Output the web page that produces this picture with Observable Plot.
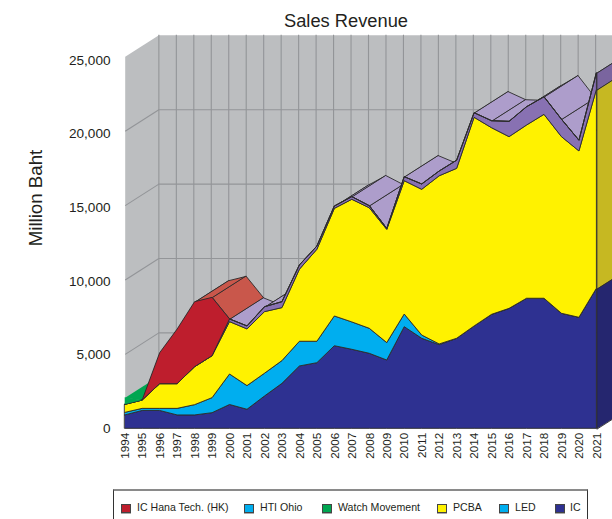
<!DOCTYPE html>
<html><head><meta charset="utf-8">
<script src="https://cdn.jsdelivr.net/npm/d3@7"></script>
<script src="https://cdn.jsdelivr.net/npm/@observablehq/plot@0.6"></script>
<style>
html,body{margin:0;padding:0;background:#fff;width:612px;height:519px;overflow:hidden;font-family:"Liberation Sans",Arial,sans-serif;color:#231f20}
#title{position:absolute;left:346px;top:0;transform:translateX(-50%);font-size:18.3px;line-height:42px;height:30px;white-space:nowrap}
#chart{position:absolute;left:0;top:30px}
#legend{position:absolute;left:113px;top:489px;width:473px;height:50px;border:1px solid #333;border-top:2px solid #8a8a8a;font-size:10.6px}
#legend .s{position:absolute;top:12.5px;width:7.5px;height:7.5px;border:1px solid #444;box-shadow:0 1px 0 #aaa}
#legend .t{position:absolute;top:10px;line-height:13px;white-space:nowrap}
</style></head><body>
<div id="title">Sales Revenue</div>
<div id="chart"></div>
<div id="legend"></div>
<script>
const years = d3.range(1994, 2022);
const IC   = [900,1200,1200,900,900,1050,1600,1280,2170,3020,4190,4410,5550,5310,5040,4590,6830,6050,5620,6050,6880,7660,8060,8740,8740,7730,7460,9410];
const LED  = [170,140,140,440,690,1010,2050,1590,1530,1530,1660,1440,2000,1840,1680,1170,850,220,50,0,0,0,0,0,0,0,0,0];
const PCBA = [540,560,1660,1660,2550,2820,3520,3810,4140,3560,4840,6180,7230,8240,8100,7610,8960,9790,11300,11420,14020,12540,11540,11640,12360,11870,11180,13370];
const HTIOhio = [0,0,0,0,0,0,180,200,330,400,290,220,160,180,140,60,270,360,320,550,310,470,1030,1230,1180,1170,720,1120];
const Hana = [0,0,2080,3670,4370,3920,0,0,0,0,0,0,0,0,0,0,0,0,0,0,0,0,0,0,0,0,0,0];
const Watch = [470,0,0,0,0,0,0,0,0,0,0,0,0,0,0,0,0,0,0,0,0,0,0,0,0,0,0,0];

const yTicks = [0,5000,10000,15000,20000,25000];
const gridValues = [5000,10000,15000,20000];
const depthX = 1.927, depthY = 1445;

const seriesDefs = [
  {name:"IC", values:IC, front:"#2e3191", top:"#2e3191", side:"#25266f", line:"#2b2b2b"},
  {name:"LED", values:LED, front:"#00aeef", top:"#00aeef", side:"#0090c6", line:"#2b2b2b"},
  {name:"PCBA", values:PCBA, front:"#fff200", top:"#fff200", side:"#c6b822", line:"#2b2b2b"},
  {name:"HTI Ohio", values:HTIOhio, front:"#8871b2", top:"#ad9dcb", side:"#7a659f", line:"#2b2b2b"},
  {name:"IC Hana Tech. (HK)", values:Hana, front:"#be1e2d", top:"#c9574b", side:"#9a1c28", line:"#2b2b2b"},
  {name:"Watch Movement", values:Watch, front:"#00a651", top:"#00a651", side:"#00a651", line:"none"}
];
const legendItems = [
  ["IC Hana Tech. (HK)","#be1e2d",7,23],
  ["HTI Ohio","#00aeef",130,146],
  ["Watch Movement","#00a651",208,224],
  ["PCBA","#fff200",323,339],
  ["LED","#00aeef",385,401],
  ["IC","#2e3191",441,456]
];

// stacking
const base = years.map(() => 0);
const bands = seriesDefs.map(s => {
  const lo = base.slice();
  s.values.forEach((v,i) => base[i] += v);
  return {...s, lo, hi: base.slice()};
});

// top faces: left to right, topmost series with thickness at a segment
const faces = [];
for (let i = 0; i < years.length-1; i++) {
  const b = [...bands].reverse().find(b => b.values[i] > 0 || b.values[i+1] > 0);
  [[years[i],b.hi[i]],[years[i+1],b.hi[i+1]],[years[i+1]+depthX,b.hi[i+1]+depthY],[years[i]+depthX,b.hi[i]+depthY]]
    .forEach(([x,y]) => faces.push({x,y,id:"f"+i,fill:b.top,stroke:b.line}));
}
// side faces at the last year
const last = years.length-1, xEnd = years[last];
bands.filter(b => b.values[last] > 0).forEach((b,k) => {
  [[xEnd,b.lo[last]],[xEnd,b.hi[last]],[xEnd+depthX,b.hi[last]+depthY],[xEnd+depthX,b.lo[last]+depthY]]
    .forEach(([x,y]) => faces.push({x,y,id:"s"+k,fill:b.side,stroke:b.line}));
});
// wall outline
const yMax = 25000, x0 = years[0];
const wall = [[x0,0],[x0,yMax],[x0+depthX,yMax+depthY],[xEnd+depthX,yMax+depthY],[xEnd+depthX,depthY],[xEnd,0]].map(([x,y])=>({x,y}));

const plot = Plot.plot({
  width:612, height:458,
  marginLeft:124.7, marginRight:15.6, marginTop:26.3, marginBottom:59.7,
  x:{type:"linear", domain:[x0,xEnd]},
  y:{domain:[0,yMax], axis:null},
  color:{type:"identity"},
  style:{background:"transparent", fontFamily:"'Liberation Sans',Arial,sans-serif", color:"#231f20"},
  marks:[
    Plot.line(wall,{x:"x",y:"y",fill:"#bcbec0",stroke:"none",curve:"linear-closed"}),
    Plot.ruleX(years,{x:d=>d+depthX,y1:depthY,y2:yMax+depthY,stroke:"#939598",strokeWidth:1.1}),
    Plot.ruleY(gridValues,{y:d=>d+depthY,x1:x0+depthX,x2:xEnd+depthX,stroke:"#939598",strokeWidth:1.1}),
    Plot.link(gridValues,{x1:x0,y1:d=>d,x2:x0+depthX,y2:d=>d+depthY,stroke:"#939598",strokeWidth:1.1}),
    Plot.line(faces,{x:"x",y:"y",z:"id",fill:"fill",stroke:"stroke",strokeWidth:0.9,curve:"linear-closed"}),
    ...bands.map(b => Plot.areaY(years,{
      x:d=>d, y1:(d,i)=>b.lo[i], y2:(d,i)=>b.hi[i], fill:b.front, stroke:b.line, strokeWidth:0.9
    })),
    Plot.text(yTicks,{x:x0,y:d=>d*0.991,text:d3.format(","),dx:-14.7,textAnchor:"end",fontSize:13.6,fill:"#231f20"}),
    Plot.axisX({ticks:years,tickFormat:d=>String(d),tickSize:0,tickPadding:4,tickRotate:-90,fontSize:11.7,label:null,fill:"#231f20"}),
    Plot.text(["Million Baht"],{x:x0,y:15510,dx:-88.7,rotate:-90,fontSize:18.7,fill:"#231f20"})
  ]
});
document.getElementById("chart").appendChild(plot);

const lg = document.getElementById("legend");
legendItems.forEach(([name,c,sx,tx]) => {
  const s = document.createElement("div"); s.className="s"; s.style.left=sx+"px"; s.style.background=c; lg.appendChild(s);
  const t = document.createElement("div"); t.className="t"; t.style.left=tx+"px"; t.textContent=name; lg.appendChild(t);
});
</script>
</body></html>
